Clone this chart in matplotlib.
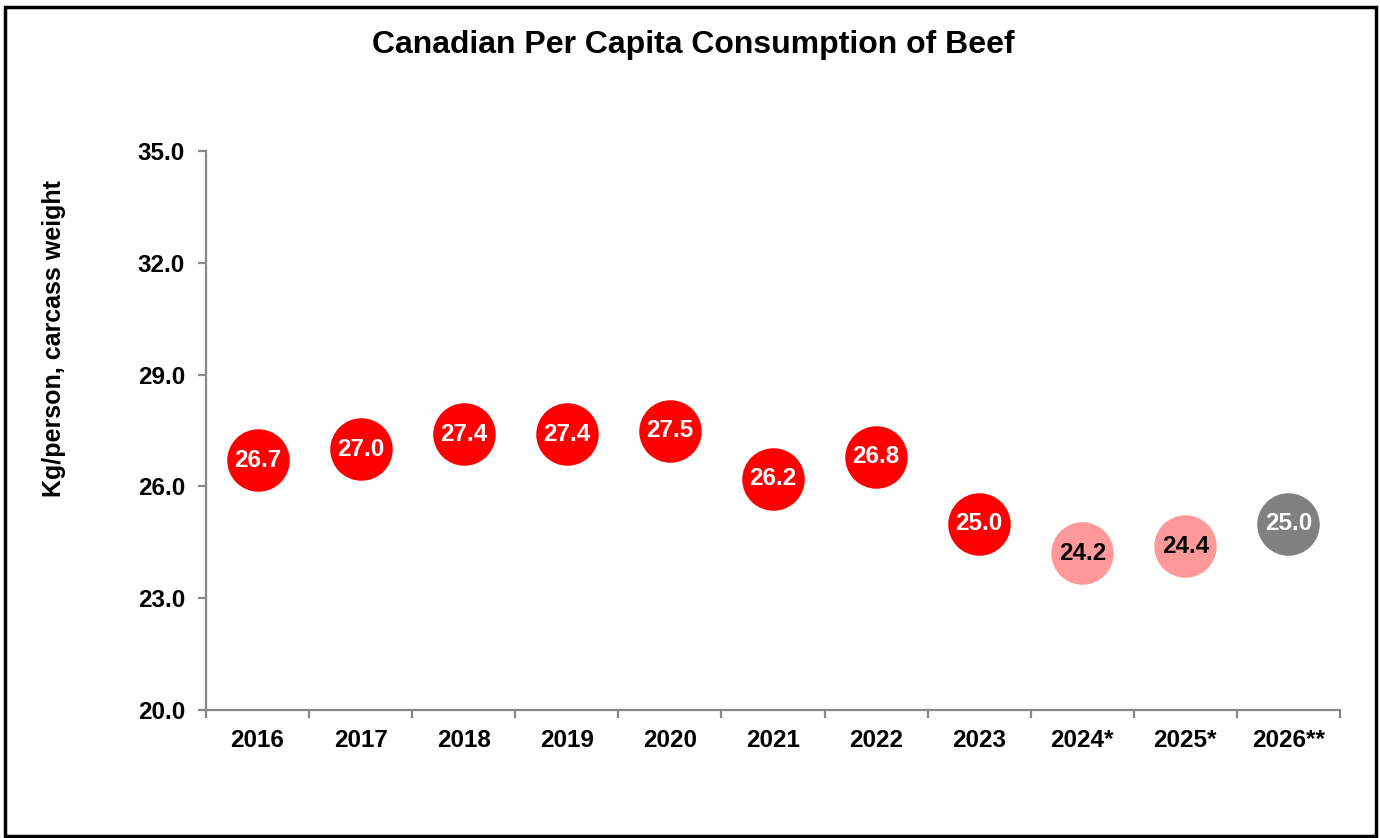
import numpy as np
import matplotlib.pyplot as plt
from matplotlib.patches import Rectangle

plt.rcParams['font.family'] = ['Liberation Sans', 'DejaVu Sans']
plt.rcParams['font.weight'] = 'bold'

# === Data ===
years = ["2016", "2017", "2018", "2019", "2020", "2021", "2022", "2023", "2024*", "2025*", "2026**"]
kg_per_person = [26.7, 27.0, 27.4, 27.4, 27.5, 26.2, 26.8, 25.0, 24.2, 24.4, 25.0]
dot_colors = ["#FF0000"] * 8 + ["#FF9999"] * 2 + ["#808080"]
text_colors = ["white"] * 8 + ["black"] * 2 + ["white"]

fig = plt.figure(figsize=(13.8, 8.38), dpi=100)
ax = fig.add_axes([206 / 1380, 1 - 710 / 838, (1340 - 206) / 1380, (710 - 151) / 838])

x = np.arange(len(years))
for xi, val, c, tc in zip(x, kg_per_person, dot_colors, text_colors):
    ax.plot(xi, val, 'o', ms=45, color=c, mec='none', zorder=3)
    ax.text(xi, val, f"{val:.1f}", ha='center', va='center', fontsize=17.5,
            fontweight='bold', color=tc, zorder=4)

ax.set_xlim(-0.5, len(years) - 0.5)
ax.set_ylim(20, 35)
ax.set_yticks(np.arange(20, 35.1, 3))
ax.set_yticklabels([f"{v:.1f}" for v in np.arange(20, 35.1, 3)])
ax.set_xticks(x)
ax.set_xticklabels(years)
ax.set_xticks(np.arange(-0.5, len(years)), minor=True)

for s in ["top", "right"]:
    ax.spines[s].set_visible(False)
for s in ["left", "bottom"]:
    ax.spines[s].set_color("#888888")
    ax.spines[s].set_linewidth(1.6)

ax.tick_params(axis='y', which='major', length=6, width=1.6, color="#888888",
               labelsize=17.5, pad=9)
ax.tick_params(axis='x', which='major', length=0, labelsize=17.5, pad=14)
ax.tick_params(axis='x', which='minor', length=6, width=1.6, color="#888888")

fig.text(54 / 1380, 1 - 339 / 838, "Kg/person, carcass weight", rotation=90,
         ha='center', va='center', fontsize=18, fontweight='bold')

fig.text(693 / 1380, 1 - 45 / 838, "Canadian Per Capita Consumption of Beef",
         ha='center', va='center', fontsize=23, fontweight='bold')

# outer frame
fig.patches.append(Rectangle((5 / 1380, 2 / 838), 1371 / 1380, 829 / 838,
                             transform=fig.transFigure, fill=False,
                             edgecolor="black", linewidth=2.5))

fig.savefig("out.png", dpi=100)
